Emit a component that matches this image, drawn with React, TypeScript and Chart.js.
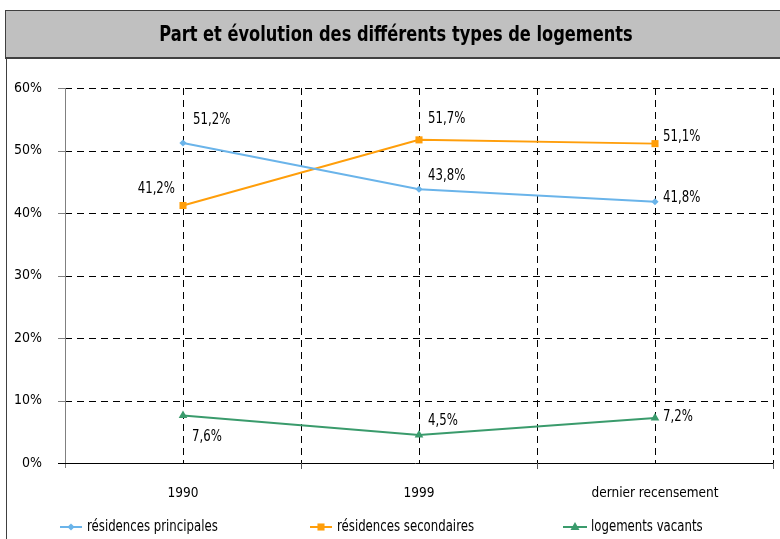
import React, { useEffect, useRef } from "react";
import { Chart, registerables } from "chart.js";

Chart.register(...registerables);

const title = "Part et évolution des différents types de logements";
const categories = ["1990", "1999", "dernier recensement"];
const seriesNames = ["résidences principales", "résidences secondaires", "logements vacants"];
const principales = [51.2, 43.8, 41.8];
const secondaires = [41.2, 51.7, 51.1];
const vacants = [7.6, 4.5, 7.2];
const yTicks = [0, 10, 20, 30, 40, 50, 60];

const colors = ["#6AB4EA", "#FF9E0A", "#3A9B6C"];
const markers = ["rectRot", "rect", "triangle"];
const markerRadius = [3.6, 5, 5];
// label offsets per dataset/point [dx, dy, align]
const labelOffsets: [number, number, string][][] = [
  [[10, -23, "left"], [9, -13, "left"], [8, -4, "left"]],
  [[-8, -16, "right"], [9, -21, "left"], [8, -7, "left"]],
  [[9, 22, "left"], [9, -14, "left"], [8, -1, "left"]],
];
const legendPos = [[60, 82, 87], [310, 332, 337], [563, 587, 591]];

const FONT = "'Liberation Sans Narrow', 'DejaVu Sans Condensed', sans-serif";
const fmt = (v: number) => v.toFixed(1).replace(".", ",") + "%";

function drawText(ctx: CanvasRenderingContext2D, text: string, x: number, y: number, align: string, sx: number) {
  ctx.save();
  ctx.translate(x, y);
  ctx.scale(sx, 1);
  ctx.textAlign = align as CanvasTextAlign;
  ctx.fillText(text, 0, 0);
  ctx.restore();
}

function drawMarker(ctx: CanvasRenderingContext2D, style: string, x: number, y: number, r: number, color: string) {
  ctx.save();
  ctx.fillStyle = color;
  ctx.beginPath();
  if (style === "rectRot") {
    ctx.moveTo(x, y - r); ctx.lineTo(x + r, y); ctx.lineTo(x, y + r); ctx.lineTo(x - r, y);
  } else if (style === "rect") {
    const s = r * Math.SQRT1_2;
    ctx.rect(x - s, y - s, 2 * s, 2 * s);
  } else {
    ctx.moveTo(x, y - r); ctx.lineTo(x + r * 0.9, y + r * 0.6); ctx.lineTo(x - r * 0.9, y + r * 0.6);
  }
  ctx.closePath();
  ctx.fill();
  ctx.restore();
}

const framePlugin = {
  id: "frame",
  beforeDraw(chart: any) {
    const ctx = chart.ctx as CanvasRenderingContext2D;
    ctx.save();
    ctx.fillStyle = "#fff";
    ctx.fillRect(0, 0, chart.width, chart.height);
    ctx.fillStyle = "#C0C0C0";
    ctx.fillRect(5, 10, 800, 48);
    ctx.strokeStyle = "#404040";
    ctx.lineWidth = 1;
    ctx.strokeRect(5.5, 10.5, 800, 47);
    ctx.lineWidth = 2;
    ctx.beginPath(); ctx.moveTo(5, 58); ctx.lineTo(780, 58); ctx.stroke();
    ctx.lineWidth = 1;
    ctx.beginPath(); ctx.moveTo(6.5, 58); ctx.lineTo(6.5, 539); ctx.stroke();
    ctx.fillStyle = "#000";
    ctx.font = `bold 22px ${FONT}`;
    ctx.textBaseline = "middle";
    drawText(ctx, title, 396, 35, "center", 0.82);
    ctx.restore();
  },
  beforeDatasetsDraw(chart: any) {
    const ctx = chart.ctx as CanvasRenderingContext2D;
    const a = chart.chartArea;
    const xs = chart.scales.x;
    const ys = chart.scales.y;
    const n = categories.length;
    const step = (a.right - a.left) / n;
    ctx.save();
    ctx.strokeStyle = "#000";
    ctx.lineWidth = 1;
    ctx.setLineDash([7, 5]);
    yTicks.forEach((t) => {
      if (t === 0) return;
      const y = Math.round(ys.getPixelForValue(t)) + 0.5;
      ctx.beginPath(); ctx.moveTo(a.left, y); ctx.lineTo(a.right, y); ctx.stroke();
    });
    const vx: number[] = [];
    for (let i = 0; i < n; i++) vx.push(xs.getPixelForTick(i));
    for (let i = 1; i <= n; i++) vx.push(a.left + step * i);
    vx.forEach((x) => {
      const xx = Math.round(x) + 0.5;
      ctx.beginPath(); ctx.moveTo(xx, a.top); ctx.lineTo(xx, a.bottom); ctx.stroke();
    });
    ctx.setLineDash([]);
    ctx.strokeStyle = "#808080";
    ctx.beginPath(); ctx.moveTo(a.left + 0.5, a.top); ctx.lineTo(a.left + 0.5, a.bottom + 5); ctx.stroke();
    yTicks.forEach((t) => {
      const y = Math.round(ys.getPixelForValue(t)) + 0.5;
      ctx.beginPath(); ctx.moveTo(a.left - 7, y); ctx.lineTo(a.left, y); ctx.stroke();
    });
    ctx.strokeStyle = "#000";
    const yb = Math.round(a.bottom) + 0.5;
    ctx.beginPath(); ctx.moveTo(a.left - 7, yb); ctx.lineTo(a.right, yb); ctx.stroke();
    ctx.strokeStyle = "#555";
    for (let i = 1; i <= n; i++) {
      const xx = Math.round(a.left + step * i) + 0.5;
      ctx.beginPath(); ctx.moveTo(xx, a.bottom); ctx.lineTo(xx, a.bottom + 6); ctx.stroke();
    }
    ctx.restore();
  },
  afterDatasetsDraw(chart: any) {
    const ctx = chart.ctx as CanvasRenderingContext2D;
    ctx.save();
    ctx.fillStyle = "#000";
    ctx.font = `15px ${FONT}`;
    ctx.textBaseline = "middle";
    chart.data.datasets.forEach((ds: any, di: number) => {
      const meta = chart.getDatasetMeta(di);
      meta.data.forEach((pt: any, i: number) => {
        const [dx, dy, al] = labelOffsets[di][i];
        drawText(ctx, fmt(ds.data[i]), pt.x + dx, pt.y + dy, al, 0.87);
      });
    });
    seriesNames.forEach((name, i) => {
      const [x1, x2, tx] = legendPos[i];
      const y = 527;
      ctx.strokeStyle = colors[i];
      ctx.lineWidth = 2;
      ctx.beginPath(); ctx.moveTo(x1, y); ctx.lineTo(x2, y); ctx.stroke();
      drawMarker(ctx, markers[i], (x1 + x2) / 2, y, markerRadius[i], colors[i]);
      ctx.fillStyle = "#000";
      drawText(ctx, name, tx, y, "left", 0.87);
    });
    ctx.restore();
  },
};

export default function App() {
  const ref = useRef<HTMLCanvasElement | null>(null);
  useEffect(() => {
    if (!ref.current) return;
    const allData = [principales, secondaires, vacants];
    const chart = new Chart(ref.current, {
      type: "line",
      data: {
        labels: categories,
        datasets: seriesNames.map((name, i) => ({
          label: name,
          data: allData[i],
          borderColor: colors[i],
          backgroundColor: colors[i],
          borderWidth: 2,
          pointStyle: markers[i] as any,
          pointRadius: markerRadius[i],
          pointBorderWidth: 0,
          tension: 0,
        })),
      },
      options: {
        responsive: false,
        animation: false,
        layout: { padding: { left: 0, top: 88, right: 7, bottom: 0 } },
        plugins: { legend: { display: false }, title: { display: false }, tooltip: { enabled: false } },
        scales: {
          x: {
            type: "category",
            offset: true,
            grid: { display: false },
            border: { display: false },
            ticks: { color: "#000", font: { family: FONT, size: 13.5 }, padding: 14, maxRotation: 0 },
            afterFit: (s: any) => { s.height = 76; },
          },
          y: {
            min: 0,
            max: 60,
            grid: { display: false },
            border: { display: false },
            ticks: {
              stepSize: 10,
              color: "#000",
              font: { family: FONT, size: 14 },
              padding: 15,
              callback: (v: any) => v + "%",
            },
            afterFit: (s: any) => { s.width = 65; },
          },
        },
      },
      plugins: [framePlugin],
    });
    return () => chart.destroy();
  }, []);
  return (
    <div style={{ position: "absolute", left: 0, top: 0, width: 780, height: 539 }}>
      <canvas ref={ref} width={780} height={539} style={{ width: 780, height: 539, display: "block" }} />
    </div>
  );
}
